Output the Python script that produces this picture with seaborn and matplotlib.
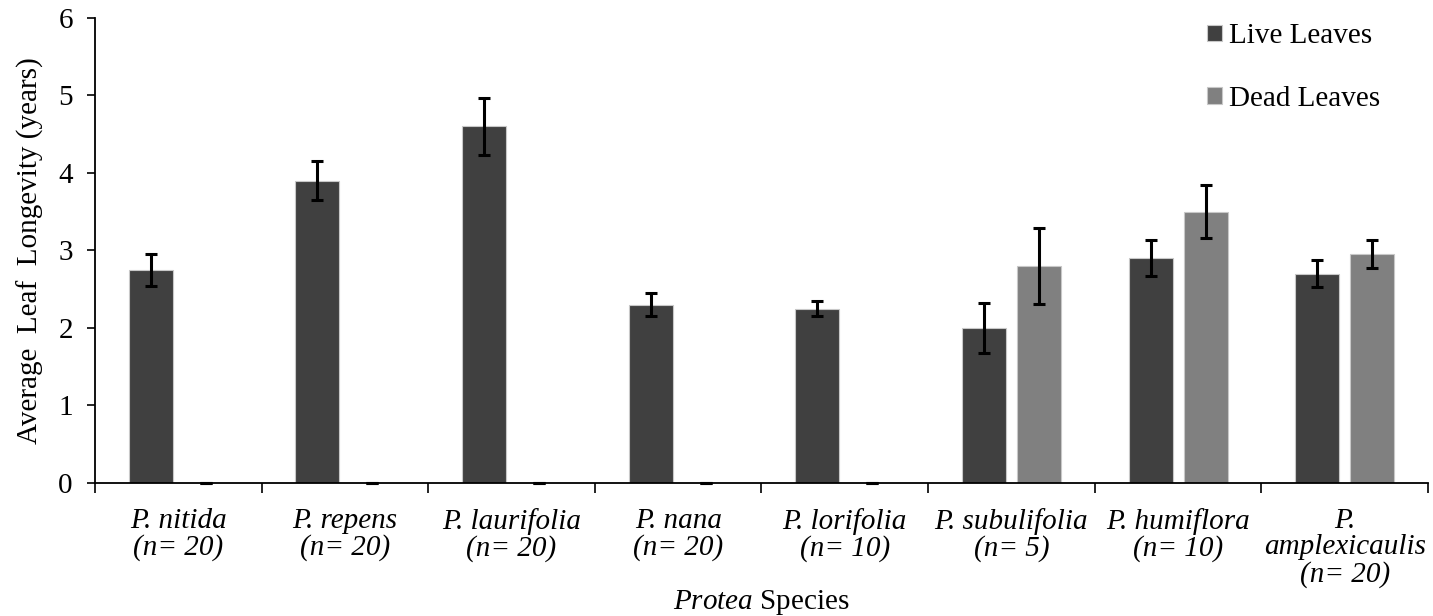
import matplotlib
matplotlib.use("Agg")
import matplotlib.pyplot as plt
import seaborn as sns
import pandas as pd
import numpy as np

species = ["P. nitida\n(n= 20)", "P. repens\n(n= 20)", "P. laurifolia\n(n= 20)",
           "P. nana\n(n= 20)", "P. lorifolia\n(n= 10)", "P. subulifolia\n(n= 5)",
           "P. humiflora\n(n= 10)", "P.\namplexicaulis\n(n= 20)"]
live_vals = [2.75, 3.90, 4.60, 2.30, 2.25, 2.00, 2.90, 2.70]
live_err = [0.21, 0.25, 0.37, 0.15, 0.10, 0.32, 0.23, 0.17]
dead_vals = [0, 0, 0, 0, 0, 2.80, 3.50, 2.95]
dead_err = [0, 0, 0, 0, 0, 0.49, 0.34, 0.18]
series = ["Live Leaves", "Dead Leaves"]
colors = ["#404040", "#808080"]

sns.set_theme(style="ticks")
plt.rcParams["font.family"] = ["Liberation Serif", "DejaVu Serif"]
plt.rcParams["mathtext.fontset"] = "custom"
plt.rcParams["mathtext.rm"] = "Liberation Serif"
plt.rcParams["mathtext.it"] = "Liberation Serif:italic"
plt.rcParams["text.color"] = "black"
plt.rcParams["axes.labelcolor"] = "black"
plt.rcParams["xtick.color"] = "black"
plt.rcParams["ytick.color"] = "black"

df = pd.DataFrame({
    "species": species * 2,
    "value": live_vals + dead_vals,
    "err": live_err + dead_err,
    "series": [series[0]] * len(species) + [series[1]] * len(species),
})

fig = plt.figure(figsize=(14.33, 6.16), dpi=100)
ax = fig.add_axes([0.0663, 0.216, 0.9302, 0.755])

sns.barplot(data=df, x="species", y="value", hue="series", palette=colors,
            width=0.66, gap=0.2, errorbar=None, edgecolor="#c8c8c8",
            linewidth=0.8, ax=ax, saturation=1)

errs = [live_err, dead_err]
for cont, e in zip(ax.containers, errs):
    xs = [p.get_x() + p.get_width() / 2 for p in cont.patches]
    ys = [p.get_height() for p in cont.patches]
    ax.errorbar(xs, ys, yerr=e, fmt="none", ecolor="black", elinewidth=2.2,
                capsize=4.4, capthick=2.2, zorder=5, clip_on=False)

FS = 21
ax.set_ylim(0, 6)
ax.set_xlim(-0.5, 7.5)
ax.set_yticks(range(0, 7))
ax.tick_params(axis="y", labelsize=FS, length=6, width=1.2, direction="out", pad=10)
ax.set_xticks(np.arange(-0.5, 8, 1), minor=False)
ax.set_xticklabels([])
ax.set_xticks(np.arange(0, 8), minor=True)
ax.set_xticklabels(species, minor=True, fontsize=FS, style="italic",
                   linespacing=1.02, va="top")
ax.tick_params(axis="x", which="major", length=7, width=1.2, direction="out")
ax.tick_params(axis="x", which="minor", length=0, pad=18)
for s in ["top", "right"]:
    ax.spines[s].set_visible(False)
for s in ["left", "bottom"]:
    ax.spines[s].set_linewidth(1.3)
    ax.spines[s].set_color("black")

ax.set_ylabel("Average  Leaf  Longevity (years)", fontsize=FS, labelpad=10)
ax.set_xlabel(r"$\it{Protea}$ Species", fontsize=FS)
ax.xaxis.set_label_coords(0.5, -0.226)

ax.legend(loc="upper right", bbox_to_anchor=(0.984, 1.045), frameon=False,
          fontsize=FS, handlelength=0.5, handleheight=0.5, handletextpad=0.25,
          labelspacing=1.25)

fig.savefig("out.png", dpi=100)
